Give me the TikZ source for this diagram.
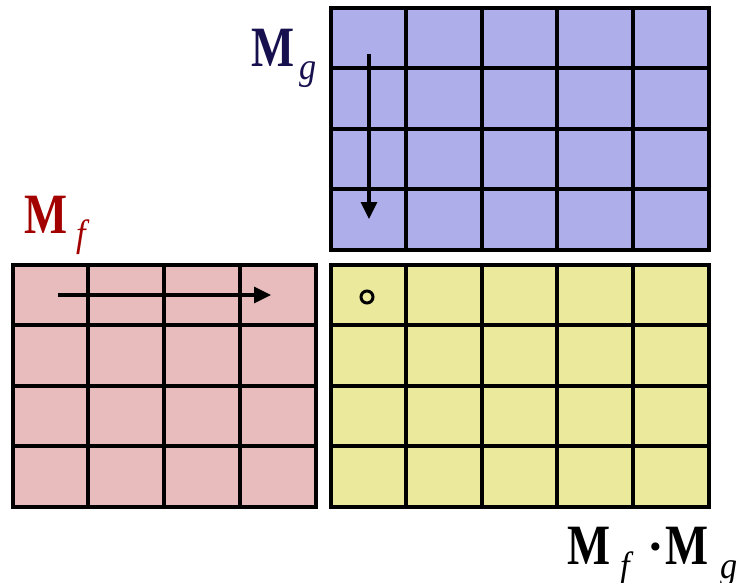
\documentclass[tikz,border=0pt]{standalone}
\usepackage{fontspec}
\setmainfont{Liberation Serif}
\usetikzlibrary{arrows.meta}
\definecolor{gfill}{HTML}{AEAEEA}
\definecolor{ffill}{HTML}{E8BCBC}
\definecolor{pfill}{HTML}{EBE99C}
\definecolor{gtext}{HTML}{16114E}
\definecolor{ftext}{HTML}{A30000}
\tikzset{
  gridline/.style={line width=3.2pt,black},
  frame/.style={line width=4.4pt,black},
  bigM/.style={anchor=base west,inner sep=0pt,font=\fontsize{57}{60}\selectfont\bfseries},
  subl/.style={anchor=base west,inner sep=0pt,font=\fontsize{38}{40}\selectfont\itshape},
  flowarrow/.style={line width=3.2pt,-{Triangle[width=16pt,length=17pt]}},
}
\newcommand{\hs}[1]{\scalebox{0.8}[1]{#1}}
\newcommand{\hsb}[1]{\scalebox{0.9}[1]{#1}}
\begin{document}
\begin{tikzpicture}[x=1pt,y=-1pt]
\useasboundingbox (0,0) rectangle (737,582);
% M_g grid (blue)
\fill[gfill] (331,8) rectangle (709,250);
\foreach \x in {406,482,557,633} \draw[gridline] (\x,8) -- (\x,250);
\foreach \y in {68,129,189} \draw[gridline] (331,\y) -- (709,\y);
\draw[frame] (331,8) rectangle (709,250);
% M_f grid (red)
\fill[ffill] (13,265) rectangle (316,507);
\foreach \x in {88,164,240} \draw[gridline] (\x,265) -- (\x,507);
\foreach \y in {325,386,446} \draw[gridline] (13,\y) -- (316,\y);
\draw[frame] (13,265) rectangle (316,507);
% product grid (yellow)
\fill[pfill] (331,265) rectangle (709,507);
\foreach \x in {406,482,557,633} \draw[gridline] (\x,265) -- (\x,507);
\foreach \y in {325,386,446} \draw[gridline] (331,\y) -- (709,\y);
\draw[frame] (331,265) rectangle (709,507);
% arrows
\coordinate (gs) at (369,54);
\coordinate (ge) at (369,219);
\draw[flowarrow] (gs) -- (ge);
\coordinate (fs) at (58,295);
\coordinate (fe) at (271,295);
\draw[flowarrow] (fs) -- (fe);
\node[circle,draw,line width=3pt,minimum size=12pt,inner sep=0pt] (dot) at (367,297) {};
% labels
\node[bigM,text=gtext] (Mg) at (251,66) {\hs{M}};
\node[subl,text=gtext] (Mgs) at (299,79) {\hsb{g}};
\node[bigM,text=ftext] (Mf) at (24,233) {\hs{M}};
\node[subl,text=ftext] (Mfs) at (76,246) {\hsb{f}};
\node[bigM] (P1) at (567,564) {\hs{M}};
\node[subl] (P1s) at (620,578) {\hsb{f}};
\node[anchor=base,inner sep=0pt,font=\fontsize{50}{60}\selectfont\bfseries] (Pdot) at (656,563) {·};
\node[bigM] (P2) at (665,564) {\hs{M}};
\node[subl] (P2s) at (720,578) {\hsb{g}};
\end{tikzpicture}
\end{document}
